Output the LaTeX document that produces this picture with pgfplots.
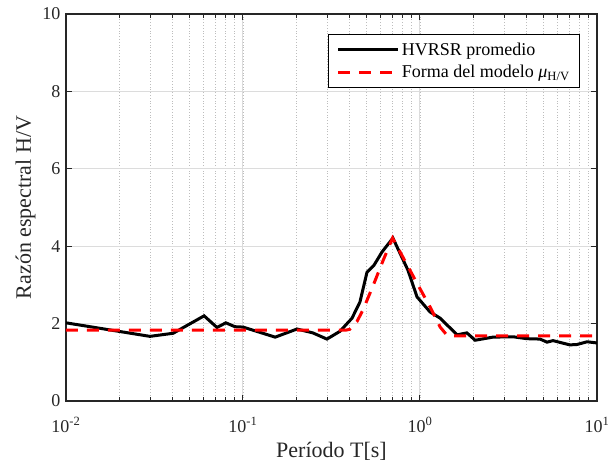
\documentclass[border=0pt]{standalone}
\usepackage{fontspec}
\setmainfont{Liberation Serif}
\usepackage{pgfplots}
\pgfplotsset{compat=1.18}
\definecolor{axc}{HTML}{262626}
\definecolor{gridc}{HTML}{DCDCDC}
\definecolor{mgridc}{HTML}{BDBDBD}
\begin{document}
\begin{tikzpicture}
\begin{axis}[
  scale only axis,
  width=531pt, height=387pt,
  xmode=log,
  xmin=0.01, xmax=10,
  ymin=0, ymax=10,
  xtick={0.01,0.1,1,10},
  xticklabels={10\textsuperscript{-2},10\textsuperscript{-1},10\textsuperscript{0},10\textsuperscript{1}},
  ytick={0,2,4,6,8,10},
  /pgf/number format/assume math mode=true,
  yticklabel={\pgfmathprintnumber[assume math mode=true]{\tick}},
  tick align=inside,
  major tick length=6pt,
  minor tick length=4pt,
  axis line style={axc, line width=1.2pt},
  every tick/.style={axc, line width=1pt},
  tick label style={font=\fontsize{18}{18}\selectfont, text=axc},
  xticklabel style={yshift=-13pt},
  yticklabel style={xshift=-2pt},
  grid=major,
  xminorgrids=true,
  major grid style={gridc, line width=1pt},
  minor grid style={mgridc, line width=0.8pt, dotted},
  xlabel={Período T[s]},
  ylabel={Razón espectral H/V},
  label style={font=\fontsize{22}{22}\selectfont, text=axc},
  xlabel style={yshift=-3pt},
  ylabel style={yshift=0pt},
  legend style={at={(0.968,0.948)}, anchor=north east, draw=black, line width=0.8pt,
    font=\fontsize{18}{21}\selectfont, row sep=5pt, inner xsep=8pt, inner ysep=6pt,
    nodes={inner sep=2pt}},
  legend cell align=left,
  legend image code/.code={\draw[#1] (0pt,0pt) -- (60pt,0pt);},
]
\coordinate (SW) at (rel axis cs:0,0);
\coordinate (NE) at (rel axis cs:1,1);
\addplot[black, line width=3pt] coordinates {
(0.01,2.02) (0.0298,1.67) (0.0403,1.75) (0.0603,2.20) (0.0713,1.90) (0.080,2.02)
(0.090,1.92) (0.100,1.91) (0.152,1.65) (0.202,1.86) (0.248,1.76) (0.298,1.60)
(0.353,1.80) (0.413,2.14) (0.458,2.56) (0.502,3.33) (0.55,3.51) (0.61,3.85)
(0.703,4.21) (0.855,3.38) (0.962,2.69) (1.14,2.30) (1.30,2.14) (1.62,1.71)
(1.84,1.76) (2.05,1.57) (2.58,1.65) (3.35,1.66) (4.02,1.61) (4.77,1.60)
(5.22,1.52) (5.64,1.56) (7.03,1.45) (7.71,1.46) (8.79,1.53) (10,1.50)
};
\addlegendentry{HVRSR promedio}
\addplot[red, line width=3pt, dash pattern=on 12pt off 9pt] coordinates {
(0.01,1.83) (0.38,1.83) (0.40,1.85) (0.44,2.05) (0.476,2.35) (0.54,2.95)
(0.62,3.64) (0.70,4.21) (0.80,3.72) (0.96,3.05) (1.14,2.43) (1.30,1.91)
(1.42,1.70) (1.5,1.68) (10,1.68)
};
\addlegendentry{Forma del modelo \textit{μ}\textsubscript{H/V}}
\end{axis}
\pgfresetboundingbox
\path[use as bounding box] ([shift={(-66pt,-64pt)}]SW) rectangle ([shift={(11pt,14pt)}]NE);
\end{tikzpicture}
\end{document}
